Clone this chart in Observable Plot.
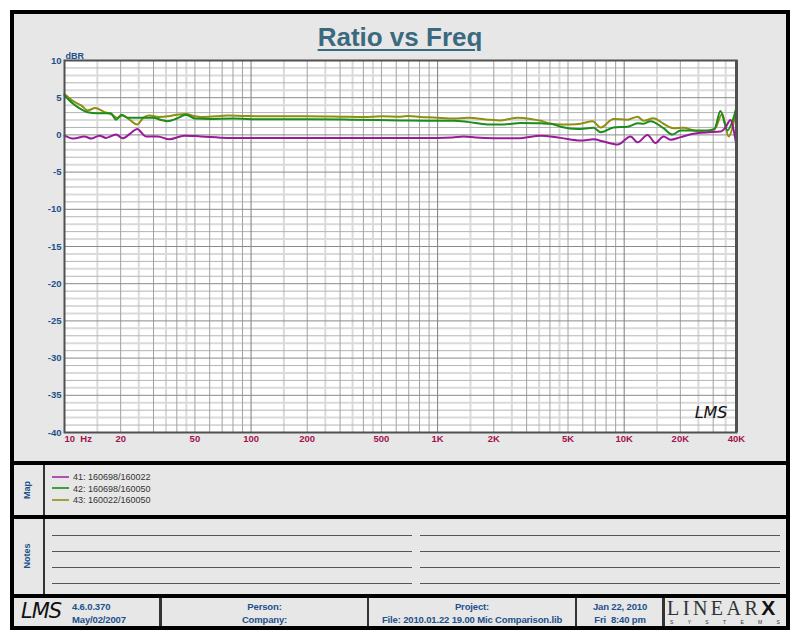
<!DOCTYPE html>
<html>
<head>
<meta charset="utf-8">
<script src="https://cdn.jsdelivr.net/npm/d3@7"></script>
<script src="https://cdn.jsdelivr.net/npm/@observablehq/plot@0.6"></script>
<style>
  body { margin:0; background:#fff; }
  #root { position:relative; width:800px; height:640px; overflow:hidden; font-family:"Liberation Sans", Arial, sans-serif; }
  .abs { position:absolute; }
  .frame { left:10px; top:10px; width:780px; height:620px; box-sizing:border-box; border:4px solid #000; background:#e7e7e7; }
  .hsep { left:10px; width:780px; height:4px; background:#000; }
  .vsep { width:2px; background:#333; }
  .lbl { color:#22508a; font-weight:bold; font-size:9px; }
  .side { transform:translate(-50%,-50%) rotate(-90deg); white-space:nowrap; }
  .note { height:1px; background:#555; }
  .leg { font-size:9px; color:#333; white-space:nowrap; }
  .leg span { display:inline-block; width:17px; height:2px; vertical-align:middle; margin-right:4px; margin-top:-2px; }
  .foot { font-size:9.5px; font-weight:bold; color:#22508a; text-align:center; line-height:12.5px; white-space:nowrap; letter-spacing:-0.15px; }
  #chart { left:0; top:0; }
  #chart svg { overflow:visible; }
</style>
</head>
<body>
<div id="root">
  <div class="abs frame"></div>
  <div class="abs" style="left:0;top:22px;width:800px;text-align:center;font-size:26px;font-weight:bold;color:#3b6a80;text-decoration:underline;text-decoration-thickness:2px;text-underline-offset:3px;">Ratio vs Freq</div>
  <div class="abs" id="chart"></div>

  <div class="abs hsep" style="top:461px"></div>
  <div class="abs hsep" style="top:515px"></div>
  <div class="abs hsep" style="top:594px"></div>

  <div class="abs vsep" style="left:43px;top:465px;height:50px"></div>
  <div class="abs vsep" style="left:43px;top:519px;height:75px"></div>
  <div class="abs lbl side" style="left:27px;top:490px">Map</div>
  <div class="abs lbl side" style="left:27px;top:556px">Notes</div>

  <div class="abs" id="legend" style="left:52px;top:472px"></div>

  <div class="abs vsep" style="left:159px;top:598px;height:28px;width:3px"></div>
  <div class="abs vsep" style="left:367px;top:598px;height:28px"></div>
  <div class="abs vsep" style="left:575px;top:598px;height:28px"></div>
  <div class="abs vsep" style="left:662px;top:598px;height:28px;width:3px"></div>

  <div class="abs" style="left:21px;top:599px;line-height:24px;font-family:'DejaVu Sans';font-style:italic;font-size:21px;letter-spacing:-1px;color:#111;">LMS</div>
  <div class="abs foot" style="left:72px;top:601px;text-align:left">4.6.0.370<br>May/02/2007</div>
  <div class="abs foot" style="left:162px;top:601px;width:205px">Person:<br>Company:</div>
  <div class="abs foot" style="left:369px;top:601px;width:206px">Project:<br>File: 2010.01.22 19.00 Mic Comparison.lib</div>
  <div class="abs foot" style="left:577px;top:601px;width:86px">Jan 22, 2010<br>Fri&nbsp;&nbsp;8:40 pm</div>
  <div class="abs" style="left:667px;top:596px;white-space:nowrap;">
    <span style="font-family:'Liberation Serif';font-size:20px;letter-spacing:3.5px;color:#333;">LINEAR</span><span style="font-family:'Liberation Sans';font-weight:bold;font-size:21px;color:#111;">X</span>
  </div>
  <div class="abs" style="left:670px;top:620px;width:110px;height:5px;line-height:5px;display:flex;justify-content:space-between;font-size:5px;color:#333;font-family:'Liberation Sans'">
    <span>S</span><span>Y</span><span>S</span><span>T</span><span>E</span><span>M</span><span>S</span>
  </div>
</div>
<script>
// ---- data (frequency Hz, level dBR) ----
const freq41 = [10, 11.2, 12.8, 13.9, 15.4, 16.7, 18.9, 20.5, 22.7, 24.5, 27.3, 31.6, 36.4, 43.8, 53.8, 74.8, 150, 400, 1000, 1200, 1380, 1600, 2000, 2700, 3566, 4560, 5842, 6860, 7760, 9224, 10820, 11800, 13340, 14720, 16240, 17700, 20040, 23530, 27990, 32840, 34910, 37150, 38500, 40000];
const db41   = [-0.1, -0.5, -0.2, -0.5, -0.1, -0.4, 0.05, -0.45, 0.25, 0.8, -0.2, -0.2, -0.6, -0.1, -0.2, -0.4, -0.4, -0.4, -0.4, -0.35, -0.2, -0.35, -0.45, -0.45, -0.1, -0.4, -0.75, -0.6, -0.9, -1.3, -0.2, -1.0, 0.0, -1.1, -0.2, -0.65, -0.3, 0.15, 0.35, 0.45, 1.0, 2.0, 0.8, -1.5];

const freq42 = [10, 11, 12, 13.3, 15, 17.7, 18.9, 20.2, 21.8, 24, 30, 33, 35.7, 40, 44.8, 50, 60, 80, 113, 200, 343, 634, 953, 1219, 1450, 1850, 2260, 2790, 3570, 4035, 4560, 5626, 6860, 7480, 8770, 10430, 11800, 12700, 13840, 16240, 18150, 20040, 23530, 27990, 30500, 32800, 35800, 38000, 40000];
const db42   = [5.3, 4.3, 3.6, 3.05, 2.9, 2.9, 2.05, 2.7, 2.3, 2.3, 2.3, 2.0, 1.85, 2.2, 2.7, 2.2, 2.15, 2.2, 2.1, 2.1, 2.05, 1.95, 1.9, 1.9, 1.75, 1.4, 1.4, 1.6, 1.55, 1.5, 1.1, 0.8, 0.95, 0.35, 1.0, 1.1, 1.55, 1.5, 1.85, 0.9, 0.05, 0.6, 0.6, 0.6, 0.8, 3.2, 0.6, 1.8, 3.7];

const freq43 = [10, 11.2, 12.4, 13.3, 14.6, 16.3, 17.7, 19.3, 20.5, 22.2, 24.5, 26.7, 28.5, 32, 36, 40, 44.8, 50, 54, 65, 75, 90, 113, 150, 200, 300, 400, 500, 634, 700, 811, 953, 1219, 1450, 1850, 2180, 2690, 3150, 3570, 4035, 4560, 5165, 5840, 6780, 7480, 8770, 10430, 11800, 12700, 14370, 16240, 18370, 20800, 23530, 27990, 30130, 31000, 33500, 36300, 38500, 40000];
const db43   = [5.5, 4.5, 3.9, 3.3, 3.6, 3.1, 2.8, 2.3, 2.6, 2.1, 1.4, 2.4, 2.6, 2.4, 2.5, 2.7, 2.8, 2.5, 2.4, 2.5, 2.6, 2.55, 2.5, 2.5, 2.5, 2.45, 2.4, 2.5, 2.45, 2.55, 2.4, 2.35, 2.2, 2.3, 2.05, 1.95, 2.3, 2.15, 1.9, 1.5, 1.4, 1.4, 1.5, 1.85, 1.0, 2.15, 2.05, 2.45, 1.9, 2.25, 1.5, 0.9, 0.95, 0.6, 0.35, 0.6, 1.0, 2.8, -0.2, 1.5, 3.8];

const seriesNames  = ["41: 160698/160022", "42: 160698/160050", "43: 160022/160050"];
const seriesColors = ["#9a1a9a", "#1c8c1c", "#8f8f10"];
const legendColors = ["#b050b0", "#40a040", "#a0a040"];

const xTicks      = [10, 20, 50, 100, 200, 500, 1000, 2000, 5000, 10000, 20000, 40000];
const xTickLabels = ["10\u00a0\u00a0Hz", "20", "50", "100", "200", "500", "1K", "2K", "5K", "10K", "20K", "40K"];
const yTicks      = [10, 5, 0, -5, -10, -15, -20, -25, -30, -35, -40];
const yUnit       = "dBR";

// ---- grid values ----
const decades = [10, 100, 1000, 10000];
const gridInt = [], gridHalf = [];
for (const d of decades) {
  for (let m = 2; m <= 9; m++) if (d * m <= 40000) gridInt.push(d * m);
  for (const m of [1.5, 2.5, 3.5, 4.5]) if (d * m <= 40000) gridHalf.push(d * m);
}
const dbOdd = [], dbEven = [];
for (let v = -39; v < 10; v++) {
  if (v % 5 === 0) continue;
  (Math.abs(v) % 2 === 1 ? dbOdd : dbEven).push(v);
}

const toRows = (fs, ds) => fs.map((f, i) => ({f, db: ds[i]}));
const rows = [toRows(freq41, db41), toRows(freq42, db42), toRows(freq43, db43)];
const xLabelRows = xTicks.map((t, i) => ({t, label: xTickLabels[i], first: i === 0}));

const blue = "#22508a", crimson = "#a3124f";

const chart = Plot.plot({
  width: 800, height: 465,
  marginLeft: 64, marginRight: 64, marginTop: 60, marginBottom: 33,
  style: {background: "transparent", fontFamily: "'Liberation Sans', Arial, sans-serif", overflow: "visible"},
  x: {type: "log", domain: [10, 40000], axis: null},
  y: {domain: [-40, 10], axis: null},
  marks: [
    Plot.frame({fill: "white"}),
    Plot.ruleX(gridHalf, {stroke: "#dadada", strokeWidth: 2}),
    Plot.ruleY(dbEven, {stroke: "#dadada", strokeWidth: 2}),
    Plot.ruleY(dbOdd, {stroke: "#b4b4b4", strokeWidth: 1}),
    Plot.ruleX(gridInt, {stroke: "#a2a2a2", strokeWidth: 1}),
    Plot.ruleX(decades, {stroke: "#7c7c7c", strokeWidth: 1}),
    Plot.ruleY(yTicks, {stroke: "#8a8a8a", strokeWidth: 1}),
    Plot.line(rows[2], {x: "f", y: "db", stroke: seriesColors[2], strokeWidth: 2, curve: "monotone-x"}),
    Plot.line(rows[1], {x: "f", y: "db", stroke: seriesColors[1], strokeWidth: 2, curve: "monotone-x"}),
    Plot.line(rows[0], {x: "f", y: "db", stroke: seriesColors[0], strokeWidth: 2, curve: "monotone-x"}),
    Plot.frame({stroke: "#505050", strokeWidth: 2}),
    Plot.ruleX([40000], {stroke: "#505050", strokeWidth: 3}),
    Plot.text(["LMS"], {frameAnchor: "bottom-right", dx: -9, dy: -15, fontSize: 16, fontStyle: "italic", fontFamily: "'DejaVu Sans'", fill: "#111", textAnchor: "end", text: d => d}),
    Plot.text([yUnit], {frameAnchor: "top-left", dx: 1, dy: -8, fontSize: 9, fontWeight: "bold", fill: blue, textAnchor: "start", text: d => d}),
    Plot.text(yTicks, {y: d => d, frameAnchor: "left", dx: -3, textAnchor: "end", fontSize: 9.5, fontWeight: "bold", fill: blue, text: d => String(d)}),
    Plot.text(xLabelRows.filter(d => !d.first), {x: "t", frameAnchor: "bottom", dy: 9, textAnchor: "middle", fontSize: 9.5, fontWeight: "bold", fill: crimson, text: "label"}),
    Plot.text(xLabelRows.filter(d => d.first), {x: "t", frameAnchor: "bottom", dy: 9, textAnchor: "start", fontSize: 9.5, fontWeight: "bold", fill: crimson, text: "label"})
  ]
});
document.getElementById("chart").appendChild(chart);

// legend
const leg = document.getElementById("legend");
seriesNames.forEach((n, i) => {
  const div = document.createElement("div");
  div.className = "leg";
  div.style.height = "11.5px";
  div.innerHTML = `<span style="background:${legendColors[i]}"></span>${n}`;
  leg.appendChild(div);
});

// notes lines
const noteRows = [535, 551, 567, 583];
noteRows.forEach(t => {
  for (const [l, w] of [[52, 360], [420, 360]]) {
    const d = document.createElement("div");
    d.className = "abs note";
    d.style.left = l + "px"; d.style.top = t + "px"; d.style.width = w + "px";
    document.getElementById("root").appendChild(d);
  }
});
</script>
</body>
</html>
